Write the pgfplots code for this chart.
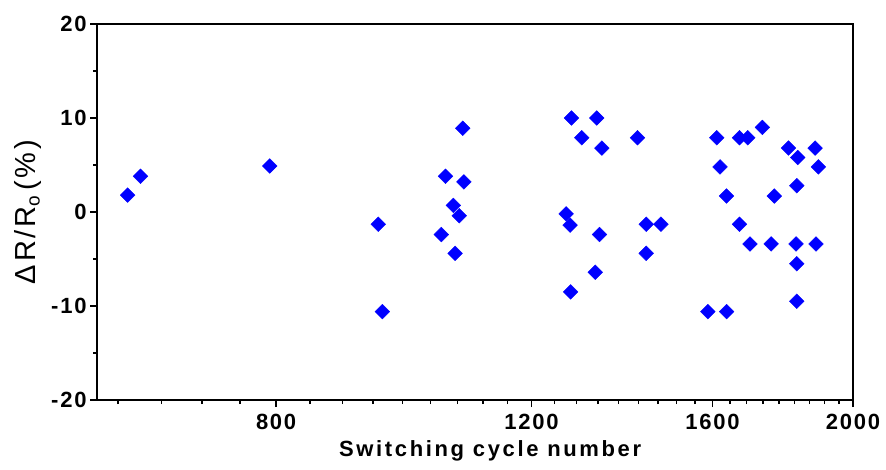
\documentclass[border=0pt]{standalone}
\usepackage{fontspec}
\setmainfont{Liberation Sans}
\newfontfamily\tickfont[LetterSpace=8]{Liberation Sans}
\newfontfamily\xlabfont[LetterSpace=12]{Liberation Sans}
\newfontfamily\labfont[LetterSpace=10]{Liberation Sans}
\usepackage{pgfplots}
\pgfplotsset{compat=1.18}
\definecolor{ptblue}{RGB}{0,0,255}
\begin{document}
\begin{tikzpicture}
\useasboundingbox (0pt,0pt) rectangle (886pt,469pt);
\begin{axis}[
  at={(97pt,69pt)}, anchor=south west,
  width=756pt, height=376pt, scale only axis,
  xmode=log, xmin=602, xmax=2000, ymin=-20, ymax=20,
  xtick={800,1200,1600,2000}, xticklabels={800,1200,1600,2000},
  minor xtick={622.2,666.7,711.1,755.6,844.4,888.9,933.3,977.8,1022.2,1066.7,1111.1,1155.6,1244.4,1288.9,1333.3,1377.8,1422.2,1466.7,1511.1,1555.6,1644.4,1688.9,1733.3,1777.8,1822.2,1866.7,1911.1,1955.6},
  ytick={-20,-10,0,10,20}, yticklabels={-20,-10,0,10,20},
  minor ytick={-15,-5,5,15},
  tick align=outside, tick pos=left,
  major tick length=7pt, minor tick length=4pt,
  every tick/.style={black, line width=1.5pt},
  axis line style={line width=2.8pt},
  ticklabel style={font=\tickfont\fontsize{22}{22}\selectfont\bfseries},
  xticklabel style={yshift=-4pt},
  xlabel={Switching cycle number},
  xlabel style={font=\xlabfont\fontsize{22}{22}\selectfont\bfseries, at={(axis description cs:0.52,-0.136)}, anchor=center},
  ylabel={ΔR/R\raisebox{-0.3ex}{\fontsize{19}{19}\selectfont o}\,(\%)},
  ylabel style={font=\labfont\fontsize{29}{29}\selectfont, at={(axis description cs:-0.092,0.5)}, anchor=center, rotate=0},
]
\addplot[only marks, mark=square*, mark size=5.2pt, color=ptblue, mark options={rotate=45, draw=ptblue, fill=ptblue}] coordinates {
(632,1.8) (645,3.8) (792,4.9) (941,-1.3) (947,-10.6) (1040,-2.4) (1047,3.8)
(1060,0.7) (1063,-4.4) (1070,-0.4) (1076,8.9) (1078,3.2) (1268,-0.2) (1276,-1.4)
(1277,-8.5) (1279,10.0) (1300,7.9) (1328,-6.4) (1331,10.0) (1337,-2.4) (1342,6.8)
(1420,7.9) (1440,-1.3) (1440,-4.4) (1474,-1.3) (1588,-10.6) (1611,7.9) (1619,4.8)
(1636,1.7) (1636,-10.6) (1670,-1.3) (1670,7.9) (1692,7.9) (1698,-3.4) (1732,9.0)
(1756,-3.4) (1765,1.7) (1805,6.8) (1827,-3.4) (1829,2.8) (1829,-5.5) (1829,-9.5)
(1832,5.8) (1883,6.8) (1886,-3.4) (1893,4.8)
};
\end{axis}
\end{tikzpicture}
\end{document}
